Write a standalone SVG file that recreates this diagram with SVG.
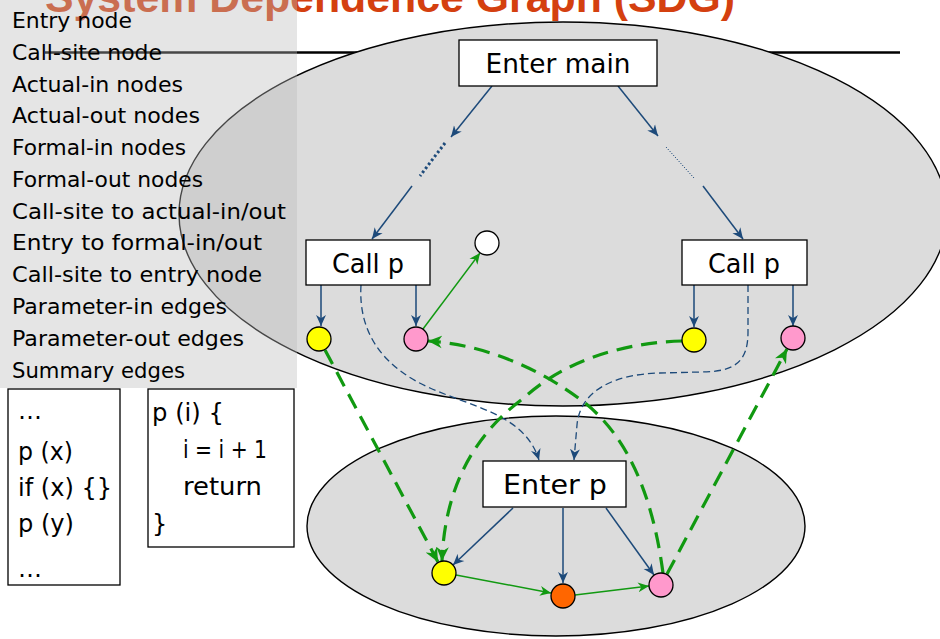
<svg xmlns="http://www.w3.org/2000/svg" width="940" height="639" viewBox="0 0 940 639">
  <style>
    .title{font-family:"Liberation Sans",Arial,sans-serif;font-size:42px;font-weight:bold;fill:#d4400f}
    .lg{font-family:"DejaVu Sans",sans-serif;font-size:21px;fill:#000}
    .lbl{font-family:"DejaVu Sans",sans-serif;font-size:27px;fill:#000;text-anchor:middle}
    .code{font-family:"DejaVu Sans",sans-serif;font-size:24px;fill:#000}
    .box{fill:#fff;stroke:#000;stroke-width:1.3}
    .nd{stroke:#000;stroke-width:1.3}
    .yel{fill:#ffff00}
    .pnk{fill:#ff99cc}
    .org{fill:#ff6600}
    .wht{fill:#fff}
    .ctl{fill:none;stroke:#1d4a7a;stroke-width:1.5}
    .call{fill:none;stroke:#1d4a7a;stroke-width:1.3;stroke-dasharray:7 4}
    .flow{fill:none;stroke:#119911;stroke-width:1.5}
    .par{fill:none;stroke:#119911;stroke-width:3.2;stroke-dasharray:16 9}
  </style>
  <defs>
    <marker id="ab" viewBox="0 0 10 10" refX="10" refY="5" markerWidth="11" markerHeight="11" markerUnits="userSpaceOnUse" orient="auto">
      <path d="M0,0.5 L10,5 L0,9.5 L3,5z" fill="#1d4a7a"/>
    </marker>
    <marker id="ag" viewBox="0 0 10 10" refX="10" refY="5" markerWidth="11" markerHeight="11" markerUnits="userSpaceOnUse" orient="auto">
      <path d="M0,0.5 L10,5 L0,9.5 L3,5z" fill="#119911"/>
    </marker>
    <marker id="agb" viewBox="0 0 10 10" refX="10" refY="5" markerWidth="14" markerHeight="14" markerUnits="userSpaceOnUse" orient="auto">
      <path d="M0,0.5 L10,5 L0,9.5 L3,5z" fill="#119911"/>
    </marker>
  </defs>

  <!-- heading and rule -->
  <text class="title" x="45" y="12" textLength="690" lengthAdjust="spacingAndGlyphs">System Dependence Graph (SDG)</text>
  <line x1="45" y1="52.5" x2="900" y2="52.5" stroke="#000" stroke-width="2.6"/>

  <!-- procedure regions -->
  <g id="main-region">
    <ellipse cx="563" cy="214" rx="384" ry="192" fill="#dcdcdc" stroke="#000" stroke-width="1.4"/>
  </g>
  <g id="p-region">
    <ellipse cx="556" cy="526" rx="249" ry="110" fill="#dcdcdc" stroke="#000" stroke-width="1.4"/>
  </g>

  <!-- legend panel -->
  <g id="legend">
    <rect x="0" y="0" width="297" height="388" fill="#bababa" fill-opacity="0.38"/>
    <text class="lg" x="12" y="28" textLength="120" lengthAdjust="spacingAndGlyphs">Entry node</text>
    <text class="lg" x="12" y="60" textLength="150" lengthAdjust="spacingAndGlyphs">Call-site node</text>
    <text class="lg" x="12" y="92" textLength="171" lengthAdjust="spacingAndGlyphs">Actual-in nodes</text>
    <text class="lg" x="12" y="123" textLength="188" lengthAdjust="spacingAndGlyphs">Actual-out nodes</text>
    <text class="lg" x="12" y="155" textLength="174" lengthAdjust="spacingAndGlyphs">Formal-in nodes</text>
    <text class="lg" x="12" y="187" textLength="191" lengthAdjust="spacingAndGlyphs">Formal-out nodes</text>
    <text class="lg" x="12" y="219" textLength="274" lengthAdjust="spacingAndGlyphs">Call-site to actual-in/out</text>
    <text class="lg" x="12" y="250" textLength="250" lengthAdjust="spacingAndGlyphs">Entry to formal-in/out</text>
    <text class="lg" x="12" y="282" textLength="250" lengthAdjust="spacingAndGlyphs">Call-site to entry node</text>
    <text class="lg" x="12" y="314" textLength="215" lengthAdjust="spacingAndGlyphs">Parameter-in edges</text>
    <text class="lg" x="12" y="346" textLength="232" lengthAdjust="spacingAndGlyphs">Parameter-out edges</text>
    <text class="lg" x="12" y="378" textLength="173" lengthAdjust="spacingAndGlyphs">Summary edges</text>
  </g>

  <!-- source snippets -->
  <g id="code-main">
    <rect class="box" x="8" y="389" width="112" height="196"/>
    <text class="code" x="18" y="419">…</text>
    <text class="code" x="18" y="460" textLength="55" lengthAdjust="spacingAndGlyphs">p (x)</text>
    <text class="code" x="18" y="496" textLength="94" lengthAdjust="spacingAndGlyphs">if (x) {}</text>
    <text class="code" x="18" y="532" textLength="56" lengthAdjust="spacingAndGlyphs">p (y)</text>
    <text class="code" x="18" y="577">…</text>
  </g>
  <g id="code-p">
    <rect class="box" x="148" y="389" width="146" height="158"/>
    <text class="code" x="152" y="421" textLength="72" lengthAdjust="spacingAndGlyphs">p (i) {</text>
    <text class="code" x="183" y="458" textLength="84" lengthAdjust="spacingAndGlyphs">i = i + 1</text>
    <text class="code" x="183" y="495" textLength="79" lengthAdjust="spacingAndGlyphs">return</text>
    <text class="code" x="152" y="532">}</text>
  </g>

  <!-- connectors -->
  <g id="edges">
    <!-- control edges from Enter main -->
    <path class="ctl" d="M492,86 L451,137" marker-end="url(#ab)"/>
    <path d="M445,143 L420,176" fill="none" stroke="#1d4a7a" stroke-width="3" stroke-dasharray="2.5 2.5"/>
    <path class="ctl" d="M412,186 L372,239" marker-end="url(#ab)"/>
    <path class="ctl" d="M618,86 L658,136" marker-end="url(#ab)"/>
    <path d="M666,147 L694,178" fill="none" stroke="#1d4a7a" stroke-width="1" stroke-dasharray="1.2 1.5"/>
    <path class="ctl" d="M703,186 L743,239" marker-end="url(#ab)"/>
    <!-- call-site to actual-in/out -->
    <path class="ctl" d="M321,285 L321,326" marker-end="url(#ab)"/>
    <path class="ctl" d="M416,285 L416,326" marker-end="url(#ab)"/>
    <path class="ctl" d="M694,285 L694,327" marker-end="url(#ab)"/>
    <path class="ctl" d="M793,285 L793,326" marker-end="url(#ab)"/>
    <!-- entry to formal-in/out -->
    <path class="ctl" d="M513,508 L453,565" marker-end="url(#ab)"/>
    <path class="ctl" d="M563,508 L563,583" marker-end="url(#ab)"/>
    <path class="ctl" d="M606,508 L654,575" marker-end="url(#ab)"/>
    <!-- call-site to entry -->
    <path class="call" d="M361,285 C358,335 385,368 430,388 C475,408 525,415 539,460" marker-end="url(#ab)"/>
    <path class="call" d="M748,285 L748,332 C748,362 735,372 700,372 L660,373 C615,374 580,390 577,425 L574,460" marker-end="url(#ab)"/>
    <!-- data flow -->
    <path class="flow" d="M423,329 L480,253" marker-end="url(#ag)"/>
    <path class="flow" d="M456,575 L551,593" marker-end="url(#ag)"/>
    <path class="flow" d="M575,595 L649,586" marker-end="url(#ag)"/>
    <!-- parameter-in -->
    <path class="par" d="M325,350 L438,562" marker-end="url(#agb)"/>
    <path class="par" d="M682,341 C615,343 560,365 525,397 C480,430 445,480 442,561" marker-end="url(#agb)"/>
    <!-- parameter-out -->
    <path class="par" d="M667,574 L787,349" marker-end="url(#agb)"/>
    <path class="par" d="M663,573 C652,490 625,435 585,403 C545,372 490,345 428,341" marker-end="url(#agb)"/>
  </g>

  <!-- nodes of main -->
  <g id="enter-main">
    <rect class="box" x="459" y="40" width="198" height="46"/>
    <text class="lbl" x="558" y="73" textLength="145" lengthAdjust="spacingAndGlyphs">Enter main</text>
  </g>
  <g id="call-p-1">
    <rect class="box" x="306" y="240" width="124" height="45"/>
    <text class="lbl" x="368" y="273" textLength="72" lengthAdjust="spacingAndGlyphs">Call p</text>
  </g>
  <g id="call-p-2">
    <rect class="box" x="682" y="240" width="125" height="45"/>
    <text class="lbl" x="744" y="273" textLength="72" lengthAdjust="spacingAndGlyphs">Call p</text>
  </g>
  <g id="actual-in-1"><circle class="nd yel" cx="319" cy="339" r="12"/></g>
  <g id="actual-out-1"><circle class="nd pnk" cx="416" cy="339" r="12"/></g>
  <g id="use-x"><circle class="nd wht" cx="487" cy="243" r="12"/></g>
  <g id="actual-in-2"><circle class="nd yel" cx="694" cy="340" r="12"/></g>
  <g id="actual-out-2"><circle class="nd pnk" cx="793" cy="338" r="12"/></g>

  <!-- nodes of p -->
  <g id="enter-p">
    <rect class="box" x="483" y="461" width="143" height="46"/>
    <text class="lbl" x="555" y="494" textLength="104" lengthAdjust="spacingAndGlyphs">Enter p</text>
  </g>
  <g id="formal-in"><circle class="nd yel" cx="444" cy="573" r="12"/></g>
  <g id="assign-i"><circle class="nd org" cx="563" cy="596" r="12"/></g>
  <g id="formal-out"><circle class="nd pnk" cx="661" cy="585" r="12"/></g>
</svg>
